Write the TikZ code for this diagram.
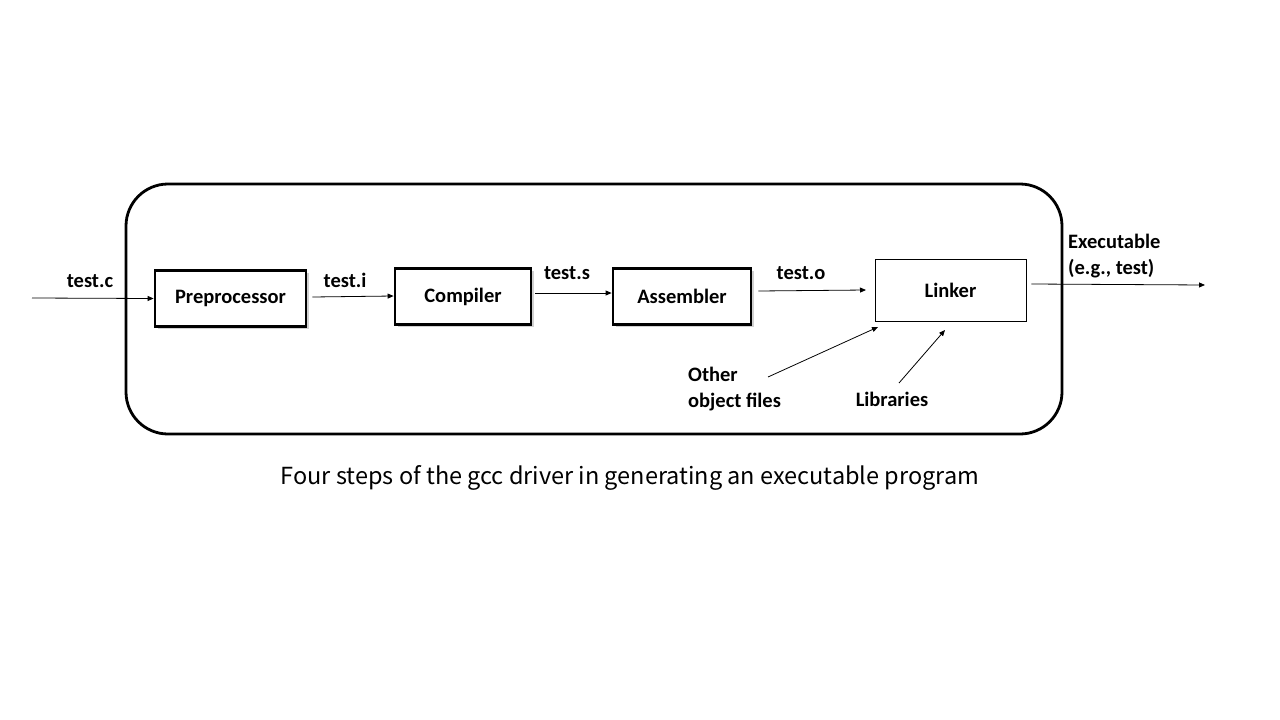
\documentclass[tikz,border=0pt]{standalone}
\usepackage{fontspec}
\setmainfont{Carlito}
\newfontfamily\capfont{Noto Sans CJK SC}
\usetikzlibrary{arrows.meta,shadows}
\begin{document}
\begin{tikzpicture}[x=1pt,y=-1pt,
  stage/.style={draw,fill=white,line width=2.8pt,minimum width=#1,minimum height=56pt,inner sep=0pt,font=\bfseries\fontsize{20.5}{24}\selectfont,
    drop shadow={shadow xshift=2.5pt,shadow yshift=-2.5pt,fill=black!30,opacity=0.6}},
  lbl/.style={font=\bfseries\fontsize{20.5}{26}\selectfont,inner sep=0pt},
  arr/.style={line width=0.8pt,-{Triangle[length=6pt,width=5pt]}}]
\useasboundingbox (0,0) rectangle (1280,720);
\draw[line width=2.8pt,rounded corners=42pt] (126,184) rectangle (1062,434);
\node[stage=151pt] (pre) at (230.5,298.5) {Preprocessor};
\node[stage=136pt] (comp) at (463,296.5) {Compiler};
\node[stage=138pt] (asm) at (682,296.5) {Assembler};
\node[draw,line width=0.8pt,minimum width=151pt,minimum height=62pt,inner sep=0pt,font=\bfseries\fontsize{20.5}{24}\selectfont] (link) at (950.5,290) {Linker};
\coordinate (in) at (32,298);
\coordinate (out) at (1205,285);
\node[lbl] (tc) at (90,281) {test.c};
\node[lbl] (ti) at (345,280) {test.i};
\node[lbl] (ts) at (567,273) {test.s};
\node[lbl] (to) at (801,273) {test.o};
\node[lbl,align=left,anchor=west] (exe) at (1068,256) {Executable\\(e.g., test)};
\node[lbl,align=left,anchor=west] (other) at (688,389) {Other\\object files};
\node[lbl] (lib) at (892,399) {Libraries};
\draw[arr] (in) -- (pre.west);
\draw[arr] (pre.east|-0,297) ++(5,0) -- (comp.west|-0,296);
\draw[arr] (comp.east|-0,293) ++(3,0) -- (asm.west|-0,293);
\draw[arr] (asm.east|-0,291) ++(6,0) -- (866,290);
\draw[arr] (link.east|-0,284) ++(5,0) -- (out);
\draw[arr] (768,377) -- (878,327);
\draw[arr] (899,383) -- (945,330);
\node[font=\capfont\fontsize{23.5}{28}\selectfont,inner sep=0pt] (cap) at (630,478) {Four steps of the gcc driver in generating an executable program};
\end{tikzpicture}
\end{document}
